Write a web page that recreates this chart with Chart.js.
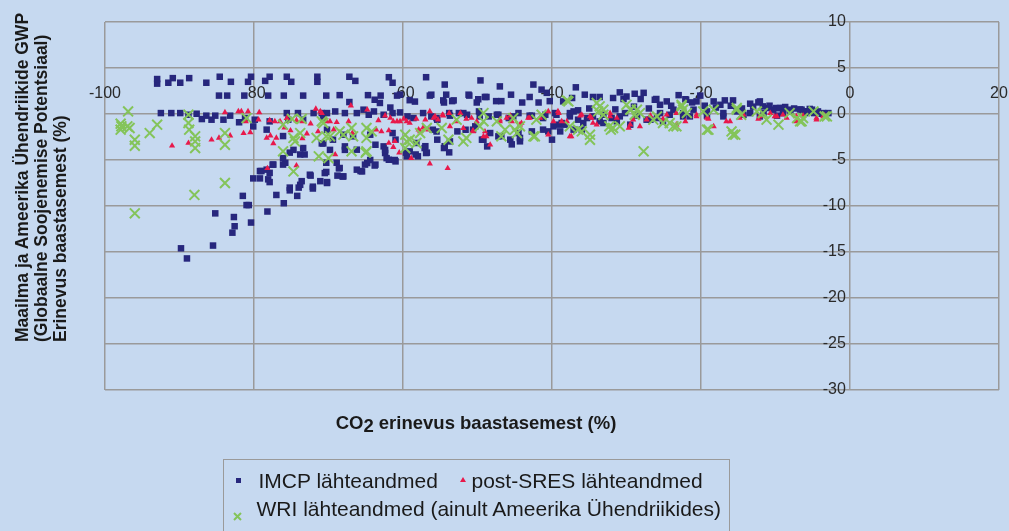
<!DOCTYPE html>
<html><head><meta charset="utf-8">
<script src="https://cdn.jsdelivr.net/npm/chart.js@4/dist/chart.umd.min.js"></script>
<style>
html,body{margin:0;padding:0;background:#C6D9F0;}
#wrap{position:relative;width:1009px;height:531px;overflow:hidden;background:#C6D9F0;font-family:"Liberation Sans",Arial,sans-serif;color:#1a1a1a;}
#c{position:absolute;left:0;top:0;}
#ytitle{position:absolute;left:13px;top:342px;transform:rotate(-90deg);transform-origin:0 0;white-space:nowrap;font-weight:bold;font-size:17.5px;line-height:19px;}
#xtitle{position:absolute;left:0;width:952px;top:414px;text-align:center;font-weight:bold;font-size:18.5px;line-height:18.5px;white-space:nowrap;}
#xtitle span{position:relative;top:3px;}
#legend{position:absolute;left:223px;top:459px;width:507px;height:100px;border:1.5px solid #9a9a9a;box-sizing:border-box;}
.lt{position:absolute;font-size:21px;line-height:21px;white-space:nowrap;}
.mk{position:absolute;}
</style>
</head><body>
<div id="wrap">
<canvas id="c" width="1009" height="531"></canvas>
<div id="ytitle">Maailma ja Ameerika Ühendriikide GWP<br>(Globaalne Soojenemise Potentsiaal)<br>Erinevus baastasemest (%)</div>
<div id="xtitle">CO<span>2</span> erinevus baastasemest (%)</div>
<div id="legend"></div>
<svg class="mk" style="left:236px;top:478px" width="5" height="5"><rect x="0" y="0" width="5" height="5" fill="#27277D"/></svg>
<div class="lt" style="left:258.5px;top:469.5px">IMCP lähteandmed</div>
<svg class="mk" style="left:460px;top:477px" width="6" height="5"><polygon points="3,0 6,5 0,5" fill="#E8194B"/></svg>
<div class="lt" style="left:471.5px;top:469.5px">post-SRES lähteandmed</div>
<svg class="mk" style="left:233px;top:511.5px" width="9" height="9"><path d="M1,1 L8,8 M8,1 L1,8" stroke="#84C45A" stroke-width="2"/></svg>
<div class="lt" style="left:256.5px;top:497.5px">WRI lähteandmed (ainult Ameerika Ühendriikides)</div>
</div>
<script>
const xTickLabels = ['-100','-80','-60','-40','-20','0','20'];
const yTickLabels = ['-30','-25','-20','-15','-10','-5','0','5','10'];

const imcpPoints = [
[-93.0,3.3],[-93.0,3.8],[-91.5,3.4],[-90.9,3.9],[-89.9,3.4],[-88.7,3.9],[-86.4,3.4],[-84.6,4.05],[-83.1,3.5],[-80.8,3.5],[-80.4,4.05],[-78.5,3.6],[-77.9,4.05],[-75.6,4.05],[-75.0,3.5],[-71.5,4.05],[-71.5,3.5],[-67.2,4.05],[-66.4,3.6],[-61.9,4.0],[-61.4,3.4],[-56.9,4.0],[-54.4,3.2],[-49.6,3.65],[-47.0,3.0],[-42.5,3.2],[-41.4,2.65],[-40.7,2.3],[-36.8,2.9],
[-84.7,2.0],[-83.6,2.0],[-81.3,2.0],[-78.1,2.0],[-76.0,2.0],[-73.4,2.0],[-70.3,2.0],[-68.5,2.05],[-64.7,2.05],[-63.0,2.0],[-60.8,2.0],[-67.2,1.3],[-63.8,1.55],[-63.1,1.2],[-61.7,0.7],[-59.1,1.5],[-58.4,1.35],[-60.4,2.1],[-56.2,2.1],[-54.2,2.1],[-54.5,1.25],[-53.4,1.4],[-51.2,2.1],[-50.1,1.25],[-48.8,1.85],[-47.5,1.4],[-46.8,1.4],[-45.5,2.1],[-44.0,1.25],[-43.0,1.85],[-41.8,1.25],[-40.3,1.4],[-56.4,2.0],[-54.6,1.48],[-53.2,1.48],[-51.1,2.0],[-49.9,1.6],[-49.0,1.85],[-38.5,1.37],[-37.1,0.28],[-35.6,2.1],[-34.5,1.85],[-33.6,1.85],[-31.8,1.74],[-30.9,2.35],[-30.4,1.63],[-30.0,1.9],[-28.9,2.2],[-27.7,2.3],[-28.1,1.63],[-26.2,1.55],[-26.0,1.63],[-25.5,1.0],[-24.6,1.37],[-23.0,2.05],[-22.0,1.55],[-22.1,1.6],[-21.2,1.26],[-20.6,1.37],[-20.1,2.0],[-18.3,1.37],[-17.4,1.0],[-16.8,1.48],[-15.7,1.48],[-13.4,1.12],[-12.3,1.26],[-11.7,0.83],[-11.0,0.65],[-9.9,0.65],[-9.0,0.65],[-6.7,0.5],[-5.4,0.55],[-4.3,0.28],[-37.3,1.74],[-12.1,1.37],[-10.3,0.47],[-9.4,0.65],[-8.7,0.76],[-8.1,0.47],[-6.5,0.47],[-6.0,0.1],[-5.1,0.47],[-3.8,0.03],
[-19.5,0.9],[-18.0,0.7],[-16.0,0.9],[-14.5,0.6],[-13.0,0.8],[-10.8,0.9],[-8.0,0.3],[-7.5,0.6],[-5.8,0.3],[-4.8,0.1],[-2.9,0.1],[-27.0,0.6],[-24.0,0.9],[-29.0,0.8],[-31.5,0.5],[-35.0,0.6],[-36.5,0.4],
[-92.5,0.1],[-91.1,0.1],[-89.9,0.1],[-88.8,-0.08],[-87.7,0.03],[-87.0,-0.55],[-86.4,-0.18],[-85.7,-0.62],[-85.2,-0.18],[-84.1,-0.62],[-83.2,-0.18],[-82.0,-0.9],[-81.2,-0.45],[-80.1,-1.35],[-79.9,-0.62],[-78.3,-1.7],[-77.9,-0.8],[-75.6,0.1],[-75.4,-0.62],[-74.1,0.1],[-73.4,-0.62],[-72.0,0.1],[-70.7,-0.45],[-70.2,0.1],
[-70.9,0.1],[-69.1,0.28],[-67.8,0.1],[-66.2,0.1],[-65.3,0.47],[-64.6,-0.08],[-63.9,0.28],[-62.6,-0.08],[-61.4,0.1],[-60.4,0.17],[-59.4,-0.26],[-58.6,-0.44],[-57.3,0.1],[-56.2,-0.26],[-55.4,-0.62],[-53.8,0.1],[-52.5,0.1],[-51.4,-0.08],[-49.8,0.28],[-48.5,-0.26],[-47.2,-0.08],[-45.8,-0.44],[-44.5,0.1],[-42.7,-0.18],[-40.9,-0.08],[-39.6,0.1],
[-70.2,-1.71],[-69.4,-2.79],[-68.0,-2.25],[-67.8,-3.52],[-66.7,-2.43],[-66.2,-3.88],[-64.4,-2.25],[-63.7,-3.34],[-62.6,-3.52],[-62.4,-4.24],[-61.9,-4.97],[-61.4,-2.07],[-61.0,-2.79],[-59.1,-4.06],[-58.2,-3.15],[-58.0,-4.6],[-57.1,-3.7],[-56.9,-4.24],[-56.0,-1.71],[-55.4,-2.79],[-54.5,-3.7],[-53.8,-4.17],[-52.7,-1.89],[-51.6,-1.71],[-50.3,-1.34],[-49.4,-2.79],[-48.7,-3.52],[-48.3,-2.07],[-47.2,-2.43],[-45.6,-2.79],[-44.5,-2.07],[-44.3,-2.97],[-42.7,-1.89],[-40.5,-1.89],[-39.1,-1.16],[-40.0,-2.79],
[-68.9,-5.3],[-68.5,-5.87],[-68.0,-6.78],[-66.2,-6.05],[-65.5,-6.24],[-70.5,-6.42],[-70.2,-7.5],[-64.8,-5.33],[-63.7,-5.5],[-61.0,-5.15],[-59.5,-4.6],
[-76.1,-2.4],[-75.8,-5.3],[-77.4,-5.5],[-77.9,-6.4],[-79.2,-6.2],[-79.2,-7.0],[-80.1,-7.0],[-74.7,-3.9],[-73.8,-4.4],[-73.2,-4.4],[-73.4,-3.7],[-72.5,-6.6],[-71.1,-7.3],[-70.9,-3.2],[-70.3,-5.3],[-73.8,-7.7],[-73.6,-7.3],[-75.2,-8.0],[-78.1,-7.1],[-72.1,-7.9],[-78.3,-6.05],[-77.5,-5.5],[-77.9,-7.4],[-76.1,-5.5],[-77.0,-8.8],[-76.0,-9.7],[-81.5,-8.9],[-81.0,-9.9],[-80.7,-9.9],[-78.2,-10.6],[-85.2,-10.8],[-82.7,-11.2],[-80.4,-11.8],[-82.6,-12.2],[-82.9,-12.9],[-85.5,-14.3],[-89.8,-14.6],[-89.0,-15.7],[-75.2,-8.3],[-74.2,-8.9],[-74.0,-8.0],[-72.4,-6.7],[-72.1,-8.1],[-70.3,-6.3],[-70.2,-7.4],[-68.8,-6.7],[-68.1,-6.8],[-68.6,-5.9],[-65.7,-6.2],[-65.1,-5.5],[-63.8,-5.6],[-64.4,-5.0],[-62.2,-4.8],[-61.1,-5.0],[-59.6,-4.2],[-58.3,-4.4],[-56.8,-4.2],[-57.0,-3.5],[-62.4,-3.9],[-67.8,-3.9],[-69.8,-3.9],[-70.7,-3.2],[-75.2,-4.2],[-76.1,-4.8],[-79.0,-6.2],
[-55.5,-0.44],[-53.7,-0.18],[-51.9,0.1],[-49.7,-0.26],[-47.4,-0.08],[-45.2,-0.26],[-43.0,-0.18],[-41.2,-0.44],[-39.4,-0.08],[-37.6,-0.26],[-35.3,-0.44],[-33.1,-0.08],[-30.9,-0.26],[-28.6,-0.18],[-25.9,-0.44],[-24.2,-0.08],[-21.5,-0.26],[-19.2,-0.18],[-17.0,-0.26],[-14.3,-0.08],[-12.1,-0.26],[-9.8,-0.18],
[-55.5,-1.9],[-54.4,-3.5],[-53.7,-2.98],[-50.6,-1.7],[-49.2,-2.8],[-46.8,-2.4],[-45.4,-3.3],[-44.3,-2.6],[-41.2,-1.7],[-38.7,-0.98],[-37.1,-1.7],[-35.8,-0.98],[-33.1,-0.98],[-31.3,-0.8],[-29.5,-1.16],[-26.8,-0.62],[-25.1,-0.8],[-22.4,-0.26],
[-39.8,-1.34],[-38.9,-1.89],[-38.3,-1.16],[-37.6,0.1],[-36.5,-0.62],[-36.0,-1.7],[-34.5,-0.26],[-33.6,-0.8],[-32.0,-0.44],[-30.2,0.1],[-28.6,-0.08],[-27.3,-0.62],[-25.5,0.1],[-23.7,0.47],[-22.4,0.1],[-21.0,0.47],[-19.2,0.28],[-17.0,0.1],[-15.2,0.28],[-13.4,0.1],[-11.6,0.1],[-9.0,0.1],[-6.3,0.17],[-3.6,0.1]
];

const sresPoints = [
[-91.0,-3.45],[-88.8,-3.15],[-85.7,-2.8],[-84.7,-2.6],[-83.9,0.17],[-83.2,-2.36],[-82.1,0.28],[-81.7,0.28],[-80.8,0.28],[-81.4,-2.1],[-80.5,-2.0],[-81.1,-0.8],[-79.3,0.17],[-79.4,-0.62],[-78.3,-2.6],[-77.8,-2.36],[-77.0,-2.6],[-77.4,-3.2],[-77.9,-0.7],[-77.2,-0.8],[-76.5,-0.8],[-75.9,-1.5],[-75.6,-0.45],[-75.1,-1.8],[-74.3,-0.7],[-73.5,-0.8],[-72.9,-2.14],[-73.5,-2.65],[-72.4,-1.05],[-71.7,0.55],[-71.1,0.28],[-71.4,-1.9],[-70.3,-0.8],[-78.2,-5.9],[-74.3,-5.6],
[-67.0,0.9],[-64.8,0.47],[-70.9,0.1],[-69.8,-0.8],[-68.9,-0.9],[-67.3,-0.8],[-69.3,-1.7],[-69.1,-4.4],[-66.8,-2.07],[-63.3,-0.7],[-63.6,-1.7],[-62.9,-1.9],[-62.4,-0.18],[-61.7,-0.44],[-61.3,-0.8],[-60.8,-0.8],[-60.4,-0.8],[-59.9,-0.54],[-61.9,-1.8],[-61.9,-3.15],[-61.3,-3.6],[-61.1,-2.97],[-60.5,-4.2],[-59.5,-0.8],[-59.1,-0.98],[-58.9,-4.8],[-58.2,-0.54],[-57.9,-1.7],[-57.7,-1.9],[-57.3,-1.5],[-57.0,-0.62],[-56.4,0.28],[-56.6,-1.7],[-55.7,-0.26],[-55.3,-0.62],[-54.7,-0.08],[-53.8,0.1],[-53.7,-1.34],[-52.9,-0.8],[-52.3,0.1],[-51.9,-1.53],[-51.5,-0.53],[-50.8,-0.44],[-50.6,-1.8],[-50.1,-0.8],[-49.0,-1.9],[-48.8,-2.43],[-48.3,-3.34],[-47.0,-0.62],[-46.1,-0.44],[-45.4,-0.8],[-44.1,-0.98],[-43.0,-0.44],[-41.6,-0.44],[-40.5,0.28],[-39.8,-0.8],[-39.1,0.1],[-40.5,-2.25],[-56.4,-5.4],[-54.0,-5.9],
[-55.9,-0.44],[-54.6,-0.18],[-50.6,-1.89],[-49.2,-2.43],[-47.0,-0.8],[-45.6,-0.18],[-44.3,-1.16],[-43.2,-0.44],[-39.2,0.28],[-38.7,-0.8],[-37.6,-2.43],[-36.2,-0.18],[-34.9,-0.26],[-34.0,-1.16],[-32.2,-0.26],[-31.3,-0.44],[-29.7,-1.52],[-28.2,-1.34],[-26.8,-0.18],[-25.1,-0.54],[-23.3,-1.16],[-22.1,-0.8],[-20.6,-0.26],[-19.0,-0.54],[-18.3,-1.34],[-16.6,-0.8],[-14.8,-0.44],[-12.3,-0.54],[-10.1,-0.26],
[-38.0,-0.8],[-37.4,-2.43],[-36.0,-0.08],[-34.7,-0.44],[-34.5,-0.98],[-32.2,0.1],[-29.5,-1.16],[-29.1,-0.62],[-27.3,-0.62],[-24.6,-0.08],[-23.3,0.1],[-20.6,-0.08],[-19.2,-0.44],[-16.1,-0.8],[-14.3,-0.08],[-10.7,0.1],[-9.0,-0.08],[-7.2,-0.8],[-4.5,-0.62],[-3.6,-0.26],
[-12.1,-0.26],[-9.8,-0.26],[-8.5,-0.44],[-7.2,-0.26],[-6.3,-0.18],[-4.5,-0.44],[-3.4,-0.18]
];

const wriPoints = [
[-96.9,0.28],[-97.9,-1.05],[-97.9,-1.7],[-96.7,-1.52],[-96.0,-2.8],[-96.0,-3.45],[-94.0,-2.07],[-93.0,-1.16],[-88.8,-0.08],[-88.8,-0.98],[-88.7,-1.7],[-87.9,-2.43],[-87.9,-2.98],[-87.9,-3.7],[-83.9,-2.07],[-83.9,-3.34],[-81.0,-0.44],[-83.9,-7.5],[-76.1,-1.16],[-76.1,-4.06],[-74.9,-0.54],[-74.7,-2.6],[-74.5,-2.98],[-73.6,-0.54],[-73.8,-2.07],[-71.6,-2.6],[-74.7,-6.24],[-71.3,-4.6],[-70.9,-0.8],[-70.3,-2.43],[-96.0,-10.8],[-88.0,-8.8],[-70.0,-4.8],[-65.0,-4.2],[-97.8,-1.34],[-97.0,-1.34],
[-70.7,-0.98],[-69.8,-2.43],[-68.5,-1.89],[-68.0,-2.25],[-66.9,-1.52],[-66.9,-4.06],[-66.7,-2.43],[-64.9,-1.52],[-64.9,-2.6],[-64.9,-4.06],[-64.2,-1.89],[-59.7,-2.25],[-59.5,-2.98],[-59.7,-3.7],[-59.1,-2.8],[-58.2,-3.15],[-57.7,-2.07],[-56.8,-1.52],[-54.8,-1.52],[-53.9,-2.8],[-52.8,-0.62],[-51.9,-2.98],[-51.5,-2.6],[-49.2,0.1],[-49.2,-0.8],[-49.7,-1.34],[-47.4,-0.8],[-46.8,-2.43],[-46.3,-1.7],[-45.2,-0.44],[-44.7,-2.07],[-44.3,-1.34],[-42.3,-2.43],[-42.1,-0.62],[-41.4,-0.08],
[-38.0,1.48],[-34.0,1.2],[-33.6,0.83],[-33.1,0.47],[-30.0,1.0],[-29.5,0.47],[-28.6,0.47],[-34.9,-2.25],[-34.9,-2.8],[-42.5,-2.43],[-45.0,-1.7],[-31.8,-1.52],[-27.7,-4.06],[-22.6,0.83],[-22.4,0.47],[-21.9,0.1],[-24.2,-0.98],[-23.3,-1.34],[-19.2,-1.7],[-15.7,-2.25],[-18.3,0.47],[-15.2,0.47],[-11.7,0.1],[-26.4,-0.62],
[-37.8,1.37],[-37.6,-1.34],[-36.5,-1.7],[-36.0,-1.89],[-33.8,0.28],[-33.1,-0.08],[-32.1,-1.7],[-32.3,-1.34],[-29.4,0.47],[-28.9,-0.08],[-30.9,-1.34],[-28.2,0.1],[-25.9,-0.26],[-25.1,-0.98],[-23.7,-1.34],[-22.6,1.0],[-19.7,0.28],[-19.0,-1.7],[-15.4,-2.25],[-15.9,-1.89],[-15.2,0.65],[-14.6,-0.08],[-12.5,0.28],[-11.2,-0.62],[-9.6,-1.16],[-8.1,0.1],[-6.7,-0.8],[-6.3,-0.44],[-4.9,0.28],[-3.4,-0.26],[-7.1,-0.44],[-6.5,-0.8],[-3.1,-0.26]
];

const toXY = arr => arr.map(p => ({x: p[0], y: p[1]}));
const tickFont = {family: '"Liberation Sans", Arial, sans-serif', size: 16};
const gridColor = '#9a9a9a';

new Chart(document.getElementById('c'), {
  type: 'scatter',
  data: {
    datasets: [
      {label: 'IMCP lähteandmed', data: toXY(imcpPoints), pointStyle: 'rect', pointRadius: 4.6, pointBackgroundColor: '#27277D', pointBorderColor: '#27277D', pointBorderWidth: 0, order: 3},
      {label: 'post-SRES lähteandmed', data: toXY(sresPoints), pointStyle: 'triangle', pointRadius: 3.6, pointBackgroundColor: '#E8194B', pointBorderColor: '#E8194B', pointBorderWidth: 0, order: 2},
      {label: 'WRI lähteandmed (ainult Ameerika Ühendriikides)', data: toXY(wriPoints), pointStyle: 'crossRot', pointRadius: 7, pointBorderColor: '#84C45A', pointBackgroundColor: '#84C45A', pointBorderWidth: 2, order: 1}
    ]
  },
  options: {
    responsive: false,
    animation: false,
    devicePixelRatio: 1,
    layout: {padding: {left: 105, right: 10, top: 22, bottom: 141}},
    plugins: {legend: {display: false}, tooltip: {enabled: false}},
    scales: {
      x: {
        type: 'linear', min: -100, max: 20, position: {y: 0},
        ticks: {stepSize: 20, padding: -30, font: tickFont, color: '#2a2a2a', maxRotation: 0, autoSkip: false,
          callback: (v, i) => xTickLabels[i]},
        grid: {color: gridColor, lineWidth: 1.5, drawTicks: false},
        border: {display: false},
        afterFit: s => { s.height = 0; }
      },
      y: {
        type: 'linear', min: -30, max: 10, position: {x: -0.55},
        ticks: {stepSize: 5, font: tickFont, color: '#2a2a2a', autoSkip: false,
          callback: (v, i) => yTickLabels[i]},
        grid: {color: gridColor, lineWidth: 1.5, drawTicks: false},
        border: {display: false},
        afterFit: s => { s.width = 0; }
      }
    }
  }
});
</script>
</body></html>
